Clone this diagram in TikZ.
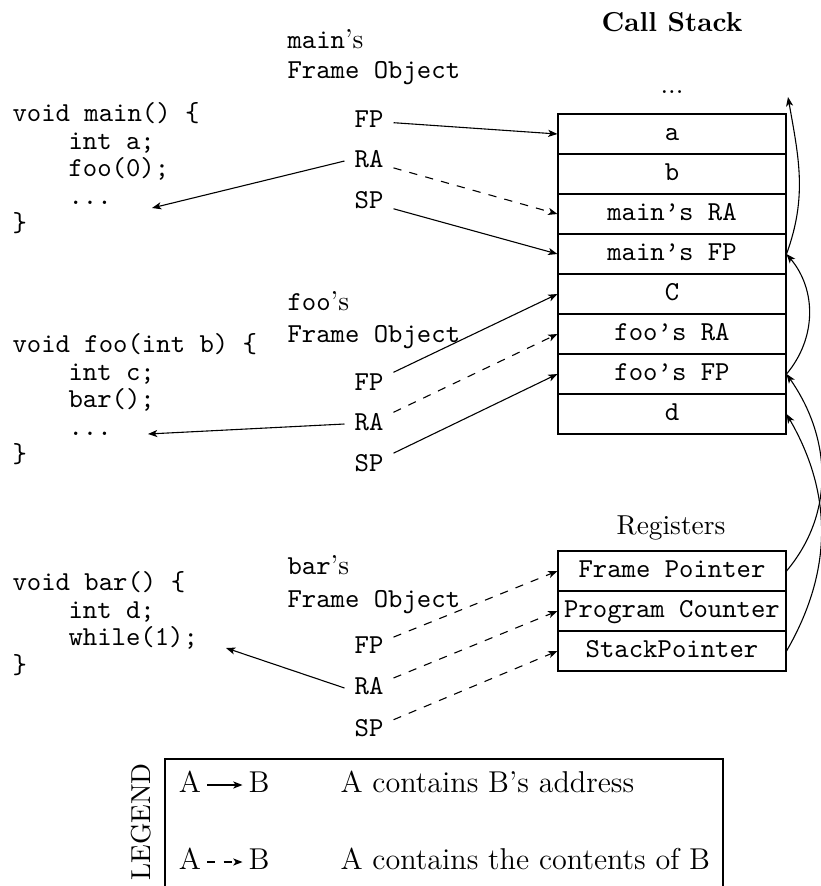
\documentclass[tikz,border=0pt]{standalone}
\usepackage{fontspec}
\usetikzlibrary{arrows.meta}
\begin{document}
\begin{tikzpicture}[x=0.365pt,y=-0.365pt,
  code/.style={anchor=west,font=\ttfamily,inner sep=0pt,text height=7pt,text depth=2pt},
  frm/.style={font=\ttfamily,inner sep=3.5pt,text height=7pt,text depth=2pt},
  cell/.style={draw,font=\ttfamily,minimum width=83.22pt,minimum height=14.6pt,inner sep=0pt,text height=7pt,text depth=2pt},
  ptr/.style={-{Stealth[length=3.4pt,width=2.6pt,inset=0.9pt]}},
  cont/.style={ptr,dashed},
  leg/.style={font=\fontsize{11}{13}\selectfont,inner sep=2pt,text height=7.5pt,text depth=2pt},
  legtxt/.style={leg,anchor=west,inner sep=0pt}
]
\useasboundingbox (0,0) rectangle (821,886);

% titles
\node[font=\bfseries] (title) at (672,22) {Call Stack};
\node (dots) at (672,92) {...};
\coordinate (top) at (788,97);
\node (reglbl) at (671,528) {Registers};

% call stack cells
\node[cell] (sa)   at (672,134) {a};
\node[cell] (sb)   at (672,174) {b};
\node[cell] (smRA) at (672,214) {main’s RA};
\node[cell] (smFP) at (672,254) {main’s FP};
\node[cell] (sc)   at (672,294) {C};
\node[cell] (sfRA) at (672,334) {foo’s RA};
\node[cell] (sfFP) at (672,374) {foo’s FP};
\node[cell] (sd)   at (672,414) {d};

% registers
\node[cell] (rFP) at (672,571) {Frame Pointer};
\node[cell] (rPC) at (672,611) {Program Counter};
\node[cell] (rSP) at (672,651) {StackPointer};

% code
\node[code] (m1) at (12,115) {void main() \{};
\node[code] (m2) at (68,142.5) {int a;};
\node[code] (m3) at (68,170) {foo(0);};
\node[code] (m4) at (68,197.5) {...};
\node[code] (m5) at (12,225) {\}};
\coordinate (mRet) at (152,208);

\node[code] (f1) at (12,346) {void foo(int b) \{};
\node[code] (f2) at (68,373.5) {int c;};
\node[code] (f3) at (68,401) {bar();};
\node[code] (f4) at (68,428.5) {...};
\node[code] (f5) at (12,456) {\}};
\coordinate (fRet) at (148,434);

\node[code] (b1) at (12,584) {void bar() \{};
\node[code] (b2) at (68,611.5) {int d;};
\node[code] (b3) at (68,639) {while(1);};
\node[code] (b4) at (12,666.5) {\}};
\coordinate (bRet) at (226,648);

% frame objects
\node[code] (mlab1) at (287,42) {main{\rmfamily ’s}};
\node[code] (mlab2) at (287,72) {Frame Object};
\node[frm] (mFP) at (369,121) {FP};
\node[frm] (mRA) at (369,161) {RA};
\node[frm] (mSP) at (369,202) {SP};

\node[code] (flab1) at (287,304) {foo{\rmfamily ’s}};
\node[code] (flab2) at (287,336) {Frame Object};
\node[frm] (fFP) at (369,384) {FP};
\node[frm] (fRA) at (369,424) {RA};
\node[frm] (fSP) at (369,465) {SP};

\node[code] (blab1) at (287,568) {bar{\rmfamily ’s}};
\node[code] (blab2) at (287,601) {Frame Object};
\node[frm] (bFP) at (369,647) {FP};
\node[frm] (bRA) at (369,688) {RA};
\node[frm] (bSP) at (369,730) {SP};

% pointers from frames
\draw[ptr]  (mFP) -- (sa.west);
\draw[cont] (mRA) -- (smRA.west);
\draw[ptr]  (mSP) -- (smFP.west);
\draw[ptr]  (mRA.west) -- (mRet);

\draw[ptr]  (fFP) -- (sc.west);
\draw[cont] (fRA) -- (sfRA.west);
\draw[ptr]  (fSP) -- (sfFP.west);
\draw[ptr]  (fRA.west) -- (fRet);

\draw[cont] (bFP) -- (rFP.west);
\draw[cont] (bRA) -- (rPC.west);
\draw[cont] (bSP) -- (rSP.west);
\draw[ptr]  (bRA.west) -- (bRet);

% saved frame pointer chain
\draw[ptr] (smFP.east) to[out=70,in=-80] (top);
\draw[ptr] (sfFP.east) to[out=50,in=-50] (smFP.east);
\draw[ptr] (rFP.east) to[out=50,in=-55] (sfFP.east);
\draw[ptr] (rSP.east) to[out=60,in=-60] (sd.east);

% legend
\draw (165,759) rectangle (723,892);
\node[rotate=90] (legend) at (141,822) {LEGEND};
\node[leg] (lA1) at (190,785) {A};
\node[leg] (lB1) at (259,785) {B};
\draw[ptr] (lA1) -- (lB1);
\node[legtxt] (ld1) at (340,785) {A contains B’s address};
\node[leg] (lA2) at (190,862) {A};
\node[leg] (lB2) at (259,862) {B};
\draw[cont] (lA2) -- (lB2);
\node[legtxt] (ld2) at (340,862) {A contains the contents of B};
\end{tikzpicture}
\end{document}
